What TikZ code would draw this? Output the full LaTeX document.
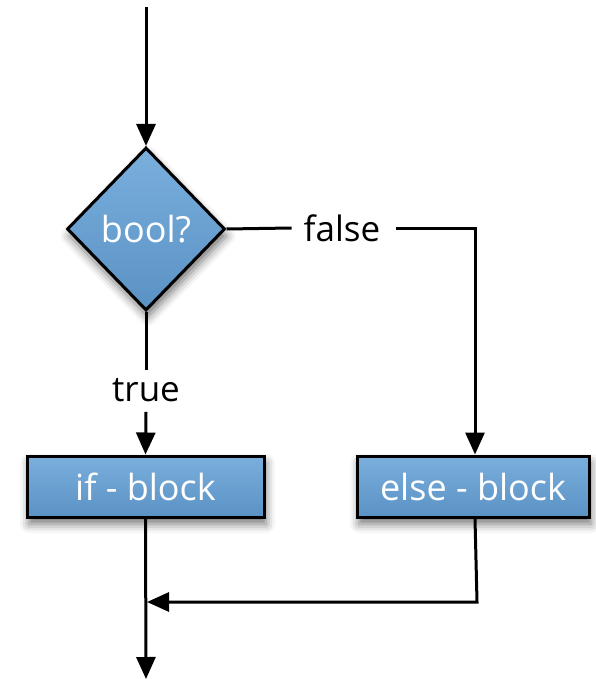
\documentclass[tikz,border=0pt]{standalone}
\usepackage{fontspec}
\setmainfont{Open Sans}
\usetikzlibrary{shapes.geometric,arrows.meta,shadows.blur}

\newlength{\du}
\setlength{\du}{1pt}

\definecolor{blocktop}{rgb}{0.478, 0.686, 0.867}
\definecolor{blockbot}{rgb}{0.353, 0.573, 0.769}

\tikzset{
  blockshade/.style={draw=black, line width=3pt, top color=blocktop, bottom color=blockbot,
    text=white, font=\fontsize{36}{40}\selectfont,
    blur shadow={shadow xshift=2pt, shadow yshift=-7pt, shadow blur radius=9pt, shadow opacity=55}},
  decide/.style={blockshade, diamond, inner sep=0pt, minimum width=158pt, minimum height=163pt},
  stepbox/.style={blockshade, rectangle, inner sep=0pt, minimum height=61pt},
  flowlabel/.style={font=\fontsize{35}{40}\selectfont, inner sep=0pt},
  flow/.style={line width=3pt, -{Triangle[length=22pt, width=19pt]}},
  plainflow/.style={line width=3pt}
}

\begin{document}
\begin{tikzpicture}[x=1\du, y=-1\du]
\useasboundingbox (0,0) rectangle (595,679);
% decision
\coordinate (start) at (146,7);
\node[decide] (bool) at (146,229) {bool?};
\draw[flow] (start) -- (bool.north);
% labels on the branches
\node[flowlabel] (falselbl) at (342,228) {false};
\node[flowlabel] (truelbl) at (146,390) {true};
% blocks
\node[stepbox, minimum width=237pt] (ifblk) at (145.5,486.5) {if - block};
\node[stepbox, minimum width=232pt] (elseblk) at (473,486.5) {else - block};
% true branch
\draw[plainflow] (bool.south) -- ([yshift=8pt]truelbl.north);
\draw[flow] ([yshift=-10pt]truelbl.south) -- (ifblk.north);
% false branch
\draw[plainflow] (bool.east) -- ([xshift=-12pt]falselbl.west);
\draw[flow] ([xshift=16pt]falselbl.east) -| ([xshift=2pt]elseblk.north);
% merge
\coordinate (merge) at (147,602);
\coordinate (finish) at (146,679);
\draw[flow] ([xshift=2pt]elseblk.south) -- (477,602) -- (merge);
\draw[flow] (ifblk.south) -- (finish);
\end{tikzpicture}
\end{document}
